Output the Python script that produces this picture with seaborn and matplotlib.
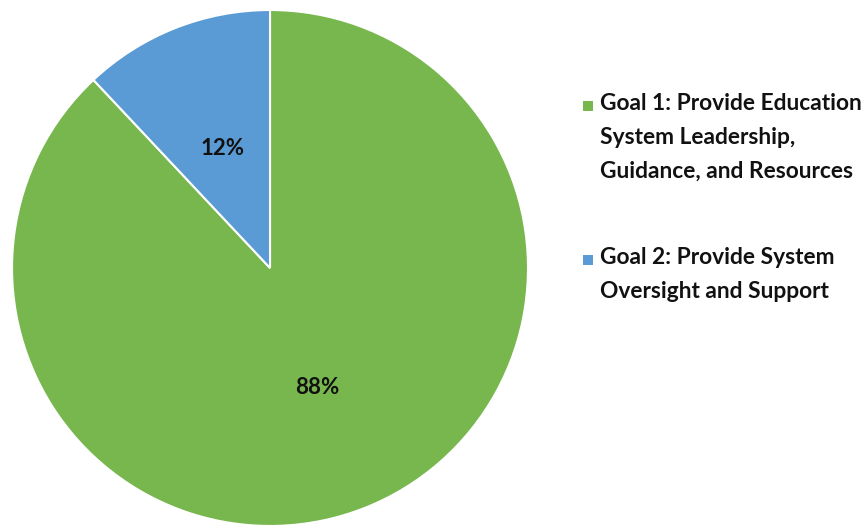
import matplotlib.pyplot as plt
import matplotlib.patches as mpatches
import seaborn as sns

labels = ['Goal 1: Provide Education\nSystem Leadership,\nGuidance, and Resources',
          'Goal 2: Provide System\nOversight and Support']
shares = [88, 12]
colors = ['#77b74d', '#5b9bd5']

sns.set_style('white')
plt.rcParams['font.family'] = ['Lato', 'DejaVu Sans']

fig = plt.figure(figsize=(8.66, 5.25), dpi=100)
ax = fig.add_axes([0.0139, -0.0019, 0.5958, 0.9829])

wedges, texts, autotexts = ax.pie(
    shares, colors=colors, startangle=90, counterclock=False,
    autopct='%d%%', pctdistance=0.5,
    wedgeprops={'edgecolor': 'white', 'linewidth': 1.5},
    textprops={'fontsize': 16, 'fontweight': 'bold', 'color': '#111111'})
ax.set_xlim(-1, 1)
ax.set_ylim(-1, 1)
ax.set_aspect('equal')

# legend drawn by hand so the swatch sits on the first line
W, H = 866, 525
tops = [106, 260]
for lab, col, yc in zip(labels, colors, tops):
    fig.patches.append(mpatches.Rectangle((583 / W, 1 - (yc + 5) / H), 10 / W, 10 / H,
                                          transform=fig.transFigure, facecolor=col,
                                          edgecolor='none'))
    fig.text(600 / W, 1 - (yc - 13) / H, lab, ha='left', va='top',
             fontsize=16.4, fontweight='bold', color='#111111', linespacing=1.75)

plt.savefig('out.png', dpi=100)
